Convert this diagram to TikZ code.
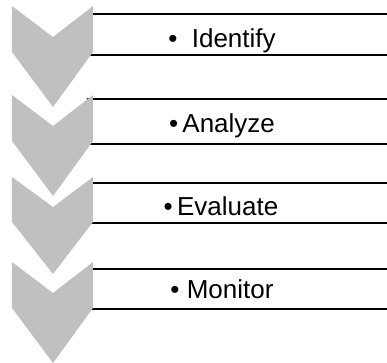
\documentclass[tikz,border=0pt]{standalone}
\usepackage{fontspec}
\setmainfont{Liberation Sans}
\definecolor{chevrongray}{RGB}{192,192,192}
\begin{document}
\begin{tikzpicture}
[x=0.02cm,y=-0.02cm,
  chevrondecorate/.style={fill=chevrongray,draw=none},%
  boxdecorate/.style={shape=rectangle,inner sep=0pt,minimum width=5.98cm},%
  linedecorate/.style={-,line width=1.1pt,line cap=round},%
  textdecorate/.style={anchor=base,inner sep=0pt,font=\fontsize{14.8}{17}\selectfont}]
\useasboundingbox (0,0) rectangle (387,363);
%%% text boxes
% boxes
\node (box1) at (237.5,34.5) [boxdecorate,minimum height=0.82cm] {};
\node (box2) at (237.5,121.75) [boxdecorate,minimum height=0.89cm] {};
\node (box3) at (237.5,203) [boxdecorate,minimum height=0.8cm] {};
\node (box4) at (237.5,289) [boxdecorate,minimum height=0.8cm] {};
% top and bottom lines
\path
(box1.north west) edge[linedecorate] (box1.north east)
(box1.south west) edge[linedecorate] (box1.south east)
(box2.north west) edge[linedecorate] (box2.north east)
(box2.south west) edge[linedecorate] (box2.south east)
(box3.north west) edge[linedecorate] (box3.north east)
(box3.south west) edge[linedecorate] (box3.south east)
(box4.north west) edge[linedecorate] (box4.north east)
(box4.south west) edge[linedecorate] (box4.south east);
%
%%% chevrons
\fill[chevrondecorate] (12,6) -- (53,37) -- (93,6) -- (93,52) -- (53,107) -- (12,52) -- cycle;
\fill[chevrondecorate] (12,95) -- (53,126) -- (93,95) -- (93,141) -- (53,196) -- (12,141) -- cycle;
\fill[chevrondecorate] (12,177) -- (53,207) -- (93,177) -- (93,222) -- (53,274) -- (12,222) -- cycle;
\fill[chevrondecorate] (12,262) -- (53,293) -- (93,262) -- (93,308) -- (53,363) -- (12,308) -- cycle;
%
%%% labels
\node (identify) at (222,47) [textdecorate] {•\ \ Identify};
\node (analyze) at (222,132) [textdecorate] {•\,Analyze};
\node (evaluate) at (221,215.5) [textdecorate] {•\,Evaluate};
\node (monitor) at (222,298) [textdecorate] {• Monitor};
\end{tikzpicture}
\end{document}
